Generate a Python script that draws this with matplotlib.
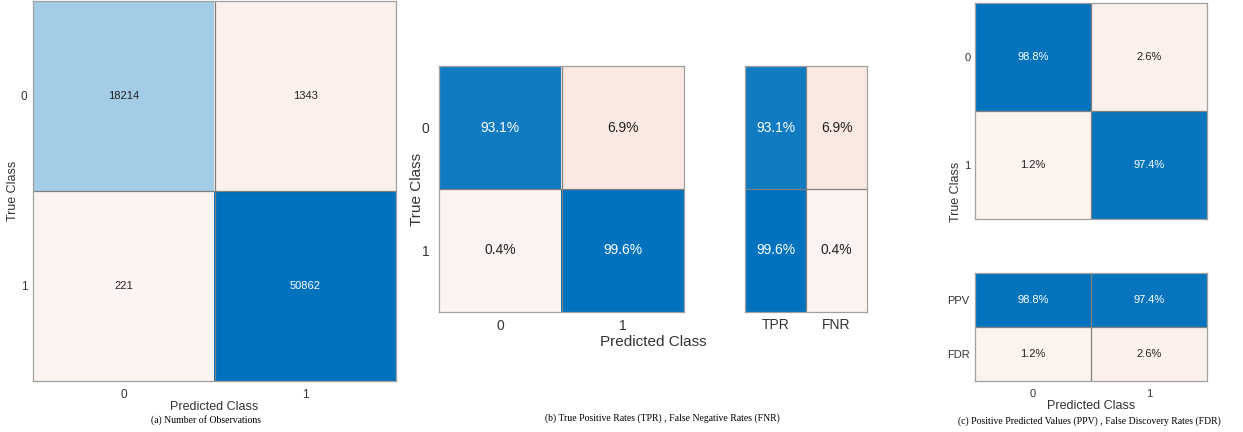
import matplotlib
matplotlib.use("Agg")
import matplotlib.pyplot as plt
import numpy as np
from matplotlib.colors import to_rgb

# data
classes = ["0", "1"]
counts = np.array([[18214, 1343], [221, 50862]])
tpr_fnr_cells = np.array([[93.1, 6.9], [0.4, 99.6]])
tpr_fnr_side = np.array([[93.1, 6.9], [99.6, 0.4]])
side_cols = ["TPR", "FNR"]
ppv_fdr_cells = np.array([[98.8, 2.6], [1.2, 97.4]])
ppv_fdr_side = np.array([[98.8, 97.4], [1.2, 2.6]])
side_rows = ["PPV", "FDR"]

# which cells are "good" (blue) vs "bad" (salmon)
good_diag = np.array([[True, False], [False, True]])
good_cols = np.array([[True, False], [True, False]])
good_rows = np.array([[True, True], [False, False]])

W, H = 1243, 432
BLUE = np.array(to_rgb("#0072BD"))
RED = np.array(to_rgb("#D95319"))
WHITE = np.ones(3)
EDGE = "#808080"


def cell_color(v, good):
    if good:
        return WHITE + v * (BLUE - WHITE)
    return WHITE + (0.06 + 0.9 * v) * (RED - WHITE)


def box(x0, y0, x1, y1):
    return [x0 / W, 1 - y1 / H, (x1 - x0) / W, (y1 - y0) / H]


def fig_text(x, y, s, **kw):
    fig.text(x / W, 1 - y / H, s, ha=kw.pop("ha", "center"), va=kw.pop("va", "center"), **kw)


def draw_matrix(ax, vals, frac, good, labels, fs):
    nr, nc = vals.shape
    rgb = np.zeros((nr, nc, 3))
    for i in range(nr):
        for j in range(nc):
            rgb[i, j] = cell_color(frac[i, j], good[i, j])
    ax.imshow(rgb, aspect="auto", interpolation="nearest",
              extent=(-0.5, nc - 0.5, nr - 0.5, -0.5))
    for i in range(nr):
        for j in range(nc):
            dark = good[i, j] and frac[i, j] > 0.5
            ax.text(j, i, labels[i][j], ha="center", va="center", fontsize=fs,
                    color="white" if dark else "#222222", family="Liberation Sans")
    for k in range(1, nc):
        ax.axvline(k - 0.5, color=EDGE, lw=0.9)
    for k in range(1, nr):
        ax.axhline(k - 0.5, color=EDGE, lw=0.9)
    for sp in ax.spines.values():
        sp.set_color("#a0a0a0")
        sp.set_linewidth(0.9)
    ax.tick_params(length=0, labelsize=fs, labelcolor="#333333")
    ax.set_xticks(range(nc))
    ax.set_yticks(range(nr))


fig = plt.figure(figsize=(W / 100, H / 100), dpi=100)
plt.rcParams["font.family"] = ["Liberation Sans", "DejaVu Sans"]

# (a) number of observations
ax_a = fig.add_axes(box(33, 1, 396, 381))
draw_matrix(ax_a, counts, counts / counts.max(), good_diag,
            [[str(v) for v in r] for r in counts], 8)
ax_a.set_xticklabels(classes)
ax_a.set_yticklabels(classes)
ax_a.tick_params(axis="x", pad=6, labelsize=8.5)
ax_a.tick_params(axis="y", pad=4, labelsize=8.5)
fig_text(13, 191, "True Class", rotation=90, fontsize=9, color="#333333")
fig_text(214, 407, "Predicted Class", fontsize=9, color="#333333")
fig_text(206, 420, "(a) Number of Observations", fontsize=7, family="Liberation Serif")

# (b) TPR / FNR
pct = lambda m: [["%.1f%%" % v for v in r] for r in m]
ax_b = fig.add_axes(box(439, 66, 684, 312))
draw_matrix(ax_b, tpr_fnr_cells, tpr_fnr_cells / 100, good_diag, pct(tpr_fnr_cells), 10)
ax_b.set_xticklabels(classes)
ax_b.set_yticklabels(classes)
ax_b.tick_params(axis="x", pad=5)
ax_b.tick_params(axis="y", pad=7)
fig_text(417, 189, "True Class", rotation=90, fontsize=11, color="#333333")
fig_text(653, 342, "Predicted Class", fontsize=11, color="#333333")

ax_bs = fig.add_axes(box(745, 66, 867, 312))
draw_matrix(ax_bs, tpr_fnr_side, tpr_fnr_side / 100, good_cols, pct(tpr_fnr_side), 10)
ax_bs.set_xticklabels(side_cols)
ax_bs.set_yticks([])
ax_bs.tick_params(axis="x", pad=4)
fig_text(662, 418, "(b) True Positive Rates (TPR) , False Negative Rates (FNR)",
         fontsize=7, family="Liberation Serif")

# (c) PPV / FDR
ax_c = fig.add_axes(box(975, 3, 1207, 219))
draw_matrix(ax_c, ppv_fdr_cells, ppv_fdr_cells / 100, good_diag, pct(ppv_fdr_cells), 8)
ax_c.set_xticks([])
ax_c.set_yticklabels(classes)
ax_c.tick_params(axis="y", pad=3)
fig_text(956, 192, "True Class", rotation=90, fontsize=9, color="#333333")

ax_cs = fig.add_axes(box(975, 273, 1207, 381))
draw_matrix(ax_cs, ppv_fdr_side, ppv_fdr_side / 100, good_rows, pct(ppv_fdr_side), 8)
ax_cs.set_xticklabels(classes)
ax_cs.set_yticklabels(side_rows)
ax_cs.tick_params(axis="x", pad=6)
ax_cs.tick_params(axis="y", pad=4)
fig_text(1091, 406, "Predicted Class", fontsize=9, color="#333333")
fig_text(1089, 421, "(c) Positive Predicted Values (PPV) , False Discovery Rates (FDR)",
         fontsize=7, family="Liberation Serif")

fig.savefig("out.png", dpi=100)
